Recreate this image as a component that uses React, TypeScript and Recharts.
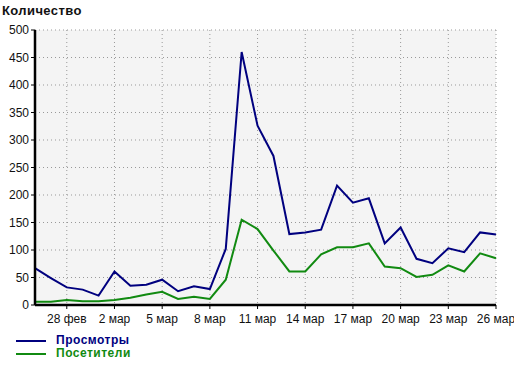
import { LineChart, Line, XAxis, YAxis, CartesianGrid } from 'recharts';

const days = [
  '26 фев', '27 фев', '28 фев', '29 фев', '1 мар', '2 мар', '3 мар', '4 мар', '5 мар', '6 мар',
  '7 мар', '8 мар', '9 мар', '10 мар', '11 мар', '12 мар', '13 мар', '14 мар', '15 мар', '16 мар',
  '17 мар', '18 мар', '19 мар', '20 мар', '21 мар', '22 мар', '23 мар', '24 мар', '25 мар', '26 мар',
];

const views = [67, 49, 32, 28, 17, 61, 35, 37, 46, 25, 34, 29, 102, 460, 326, 271, 129, 132, 137, 217, 186, 194, 112, 141, 84, 76, 103, 96, 132, 128];
const visitors = [6, 6, 9, 7, 7, 9, 13, 19, 24, 11, 15, 11, 46, 155, 138, 99, 61, 61, 92, 105, 105, 112, 70, 67, 51, 55, 72, 61, 94, 85];

const xTicks = ['28 фев', '2 мар', '5 мар', '8 мар', '11 мар', '14 мар', '17 мар', '20 мар', '23 мар', '26 мар'];
const yTicks = [0, 50, 100, 150, 200, 250, 300, 350, 400, 450, 500];

const NAVY = '#00007f';
const GREEN = '#118a11';
const FONT = '"Liberation Sans", Arial, sans-serif';

const data = days.map((d, i) => ({ day: d, views: views[i], visitors: visitors[i] }));

export default function App() {
  return (
    <div style={{ position: 'absolute', left: 0, top: 0, width: 514, height: 367, background: '#fff', fontFamily: FONT }}>
      <div style={{ position: 'absolute', left: 2, top: 3, fontSize: 13, fontWeight: 'bold', color: '#111', letterSpacing: 0.4 }}>
        Количество
      </div>
      <LineChart width={514} height={367} data={data} margin={{ top: 30, right: 18, bottom: 32, left: 0 }}>
        <CartesianGrid fill="#f4f4f4" stroke="#999" strokeDasharray="1 3" />
        <XAxis
          dataKey="day"
          ticks={xTicks}
          interval={0}
          height={30}
          tickSize={4}
          tickMargin={5}
          tick={{ fill: '#111', fontSize: 12, fontFamily: FONT }}
          tickLine={{ stroke: '#000' }}
          axisLine={{ stroke: '#000', strokeWidth: 2.5 }}
        />
        <YAxis
          domain={[0, 500]}
          ticks={yTicks}
          interval={0}
          width={35}
          tickSize={4}
          tickMargin={2}
          tick={{ fill: '#111', fontSize: 12, fontFamily: FONT }}
          tickLine={{ stroke: '#000' }}
          axisLine={{ stroke: '#000', strokeWidth: 2.5 }}
        />
        <Line type="linear" dataKey="visitors" stroke={GREEN} strokeWidth={2} dot={false} isAnimationActive={false} />
        <Line type="linear" dataKey="views" stroke={NAVY} strokeWidth={2} dot={false} isAnimationActive={false} />
      </LineChart>
      <div style={{ position: 'absolute', left: 16, top: 334, fontSize: 12, fontWeight: 'bold', lineHeight: '13px', letterSpacing: 0.5 }}>
        <div style={{ display: 'flex', alignItems: 'center', color: NAVY, height: 13 }}>
          <span style={{ display: 'inline-block', width: 30, height: 2, background: NAVY, marginRight: 10 }} />
          Просмотры
        </div>
        <div style={{ display: 'flex', alignItems: 'center', color: GREEN, height: 13 }}>
          <span style={{ display: 'inline-block', width: 30, height: 2, background: GREEN, marginRight: 10 }} />
          Посетители
        </div>
      </div>
    </div>
  );
}
